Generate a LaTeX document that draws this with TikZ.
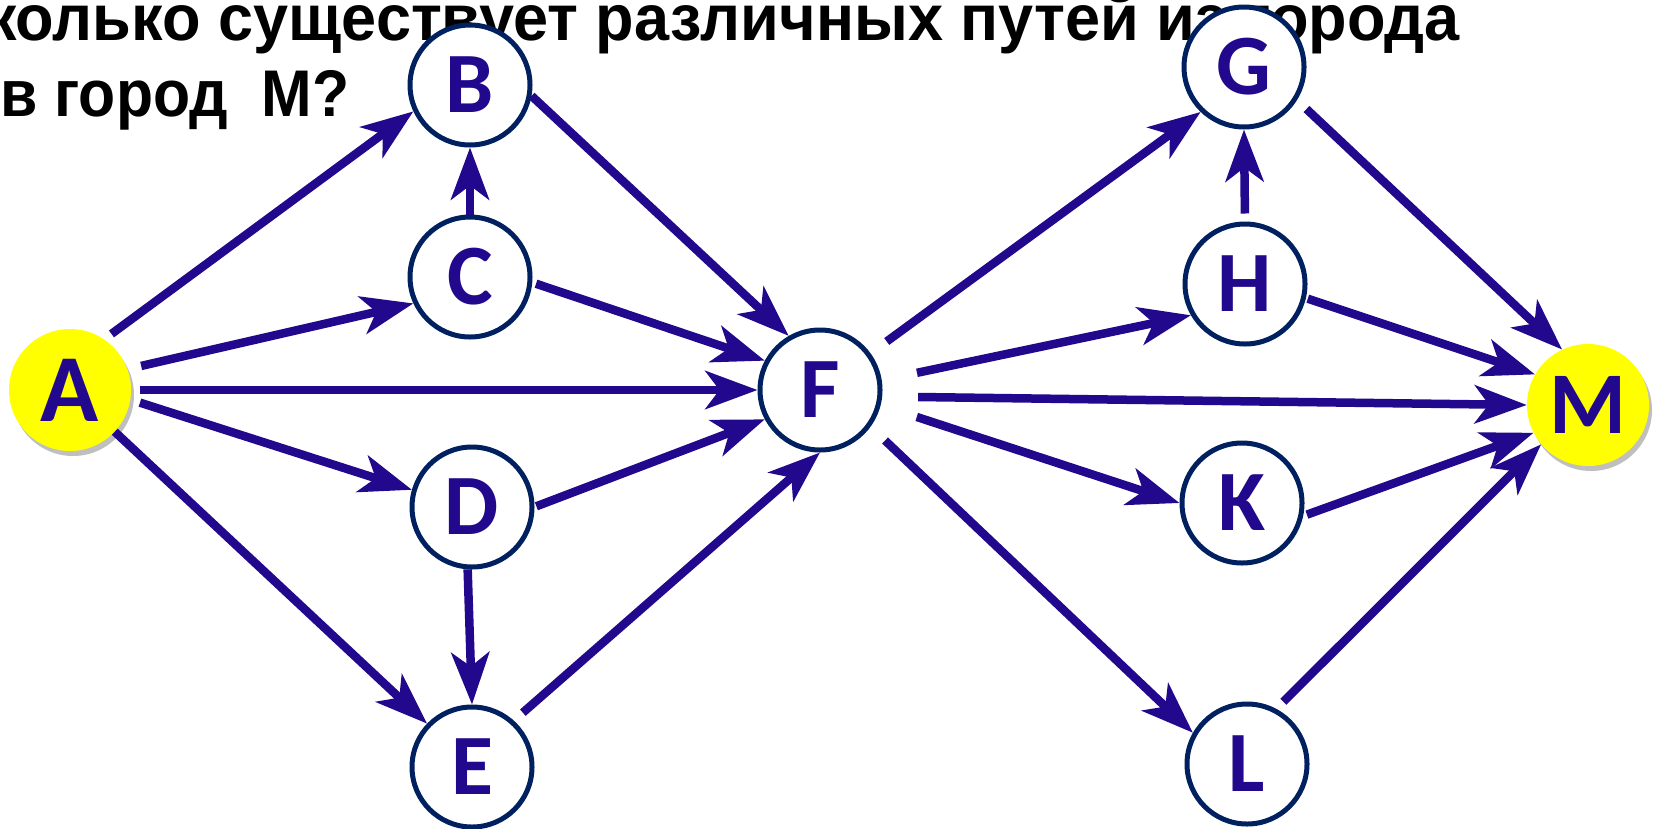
\documentclass[tikz,border=0pt]{standalone}
\usepackage{fontspec}
\setmainfont{Liberation Sans}
\newfontfamily\letterfont{Carlito}
\newfontfamily\lineonefont[FakeStretch=0.97]{Liberation Sans}
\newfontfamily\linetwofont[FakeStretch=0.92]{Liberation Sans}
\usepackage{tikz}
\usetikzlibrary{arrows.meta, shadows}
\definecolor{roadblue}{RGB}{34,8,140}
\definecolor{ringblue}{RGB}{0,32,96}
\definecolor{cityyellow}{RGB}{255,255,0}

\tikzset{
  town/.style={circle, draw=ringblue, line width=5pt, fill=white, minimum size=120pt, inner sep=0pt,
    text=roadblue, font=\letterfont\bfseries\fontsize{86}{86}\selectfont},
  endtown/.style={circle, fill=cityyellow, minimum size=122pt, inner sep=0pt, text=roadblue,
    drop shadow={shadow xshift=3pt, shadow yshift=-5pt, opacity=0.25, fill=black},
    font=\letterfont\bfseries\fontsize{96}{96}\selectfont},
  road/.style={draw=roadblue, line width=8.5pt, -{Stealth[length=52pt, width=38pt, inset=14pt]}},
  question/.style={inner sep=0pt}
}

\begin{document}
\begin{tikzpicture}[x=1pt, y=-1pt]
\useasboundingbox (0,0) rectangle (1656,828);

% Question
\node[question, anchor=base east, font=\lineonefont\bfseries\fontsize{65}{65}\selectfont] (line1) at (1460,40)
  {Сколько существует различных путей из города};
\node[question, anchor=base west, font=\linetwofont\bfseries\fontsize{66}{66}\selectfont] (line2) at (0,116)
  {в город\ \ М?};

% Towns
\node[endtown] (A) at (70,390) {A};
\node[town] (B) at (470,85) {B};
\node[town] (C) at (470,277) {C};
\node[town] (D) at (472,507) {D};
\node[town] (E) at (472,767) {E};
\node[town] (F) at (820,390) {F};
\node[town] (G) at (1244,67) {G};
\node[town] (H) at (1245,284) {H};
\node[town] (K) at (1242,503) {K};
\node[town] (L) at (1247,764) {L};
\node[endtown, font=\letterfont\bfseries\fontsize{88}{88}\selectfont] (M) at (1588,405) {M};

% Roads: from/anchor/to/anchor/gap
\foreach \from/\a/\to/\b/\gap in {A/56/B/205/9, A/20/C/205/14, A/0/F/180/9, A/-9/D/164/10, A/-43/E/136/0,
    C/90/B/270/0, B/-10/F/120/0, C/-5/F/152/4, D/0/F/208/2, D/-94/E/90/0, E/48/F/270/12,
    F/36/G/226/20, F/9/H/210/36, F/-6/M/180/36, F/-14/K/180/38, F/-36/L/150/20, H/90/G/270/8,
    G/-32/M/115/13, H/-13/M/150/2, K/-12/M/207/4, L/62/M/220/10}
  \draw[road, shorten <=\gap pt] (\from.\a) -- (\to.\b);
\end{tikzpicture}
\end{document}
